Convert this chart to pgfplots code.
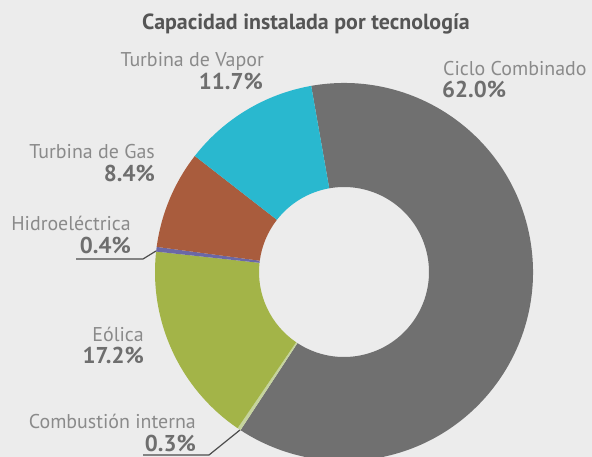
\documentclass[border=0pt]{standalone}
\usepackage{pgfplots}
\pgfplotsset{compat=1.18}
\usepackage{pgfplotstable}
\usepackage{fontspec}
\setmainfont{PT Sans}
\definecolor{bgc}{HTML}{ECECEC}
\definecolor{cCiclo}{HTML}{707070}
\definecolor{cComb}{HTML}{C6D49E}
\definecolor{cEol}{HTML}{A3B448}
\definecolor{cHidro}{HTML}{6B68A6}
\definecolor{cGas}{HTML}{A95C3D}
\definecolor{cVapor}{HTML}{29B8CF}
\definecolor{lblc}{HTML}{8A8A8A}
\definecolor{numc}{HTML}{6E6E6E}
\definecolor{titc}{HTML}{555555}
\pgfplotstableread[col sep=comma]{
label,pct,col
Ciclo Combinado,62.0,cCiclo
Combustion interna,0.3,cComb
Eolica,17.2,cEol
Hidroelectrica,0.4,cHidro
Turbina de Gas,8.4,cGas
Turbina de Vapor,11.7,cVapor
}\datatable
\begin{document}
\begin{tikzpicture}
\begin{axis}[x=1bp,y=1bp,xmin=0,xmax=592,ymin=0,ymax=457,hide axis,clip=true]
\pgfplotsextra{
  \fill[bgc] (axis cs:0,0) rectangle (axis cs:592,457);
  \xdef\cum{100}
  \foreach \i in {0,...,5}{
    \pgfplotstablegetelem{\i}{pct}\of\datatable \let\slicep\pgfplotsretval
    \pgfplotstablegetelem{\i}{col}\of\datatable \let\slicecol\pgfplotsretval
    \pgfmathsetmacro\aone{\cum}
    \pgfmathsetmacro\atwo{\cum-3.6*\slicep}
    \fill[fill=\slicecol, shift={(axis cs:344,185)}] (\aone:189bp) arc[start angle=\aone, end angle=\atwo, radius=189bp] -- (\atwo:85bp) arc[start angle=\atwo, end angle=\aone, radius=85bp] -- cycle;
    \xdef\cum{\atwo}
  }
  \draw[color=titc!90!black, line width=1.2bp] (axis cs:76,198) -- (axis cs:143,198) -- (axis cs:156,206);
  \draw[color=titc!90!black, line width=1.2bp] (axis cs:143,2) -- (axis cs:209,2) -- (axis cs:240,27);
}
\node[anchor=base, inner sep=0pt, font=\fontsize{22}{25}\selectfont\bfseries, text=titc] at (axis cs:306,427) {Capacidad instalada por tecnología};
\begin{scope}[every node/.style={font=\fontsize{20}{24}\selectfont, text=lblc, inner sep=0pt}]
\node[anchor=base east] at (axis cs:264,390) {Turbina de Vapor};
\node[anchor=base west] at (axis cs:443,382) {Ciclo Combinado};
\node[anchor=base east] at (axis cs:155,299) {Turbina de Gas};
\node[anchor=base east] at (axis cs:131,227) {Hidroeléctrica};
\node[anchor=base east] at (axis cs:144,116) {Eólica};
\node[anchor=base east] at (axis cs:196,29) {Combustión interna};
\end{scope}
\begin{scope}[every node/.style={font=\fontsize{23}{26}\selectfont\bfseries, text=numc, inner sep=0pt}]
\node[anchor=base east] at (axis cs:263,368) {11.7\%};
\node[anchor=base west] at (axis cs:442,360) {62.0\%};
\node[anchor=base east] at (axis cs:155,276) {8.4\%};
\node[anchor=base east] at (axis cs:131,204) {0.4\%};
\node[anchor=base east] at (axis cs:144,94) {17.2\%};
\node[anchor=base east] at (axis cs:196,6) {0.3\%};
\end{scope}
\end{axis}
\pgfresetboundingbox
\path (0,0) rectangle (592bp,457bp);
\end{tikzpicture}
\end{document}
